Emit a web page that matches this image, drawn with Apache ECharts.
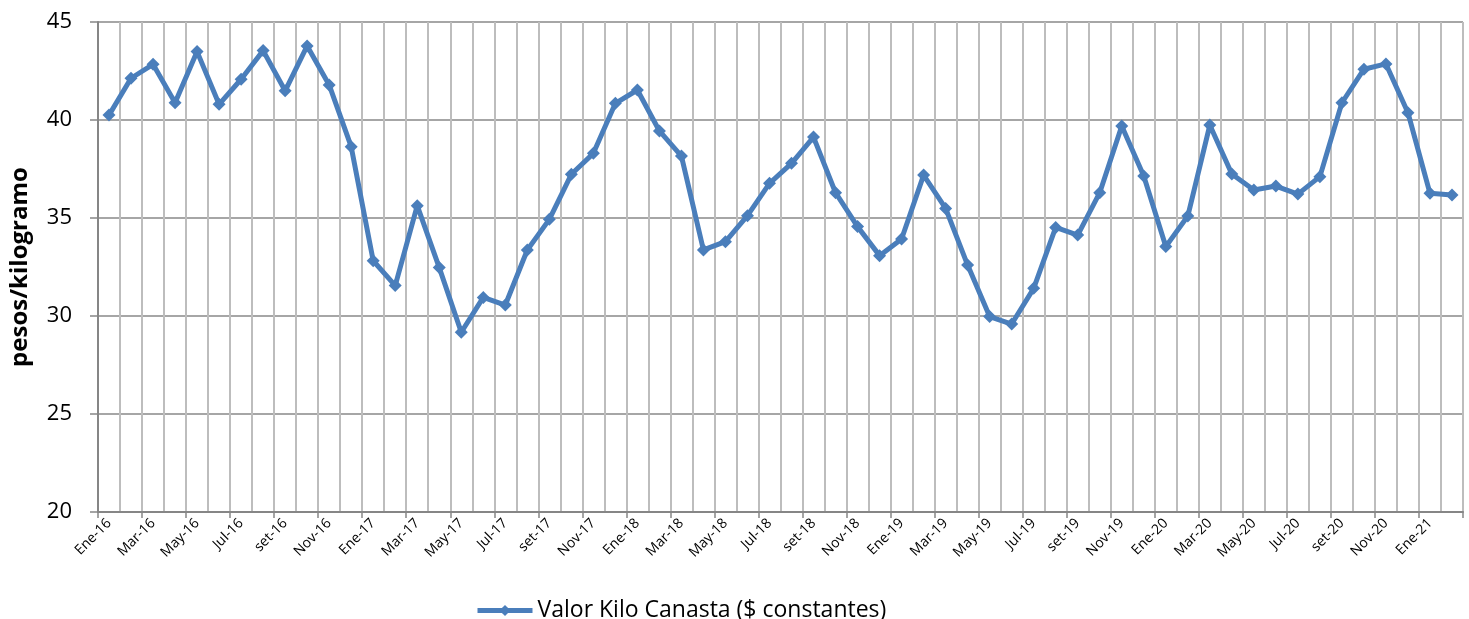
<!DOCTYPE html>
<html>
<head>
<meta charset="utf-8">
<script src="https://cdn.jsdelivr.net/npm/echarts@6/dist/echarts.min.js"></script>
<style>
html,body{margin:0;padding:0;background:#fff;}
#chart{width:1469px;height:619px;}
</style>
</head>
<body>
<div id="chart"></div>
<script>
const months = ['Ene','Feb','Mar','Abr','May','Jun','Jul','Ago','set','Oct','Nov','Dic'];
const years = ['16','17','18','19','20','21'];
const categories = [];
for (const y of years) {
  for (const m of months) {
    categories.push(m + '-' + y);
  }
}
categories.length = 62;

const seriesName = 'Valor Kilo Canasta ($ constantes)';
const values = [
  40.25, 42.13, 42.84, 40.88, 43.49, 40.80, 42.08, 43.54, 41.49, 43.78, 41.79, 38.64,
  32.82, 31.55, 35.63, 32.47, 29.17, 30.95, 30.56, 33.37, 34.93, 37.23, 38.30, 40.85,
  41.53, 39.44, 38.16, 33.37, 33.79, 35.12, 36.77, 37.79, 39.13, 36.29, 34.56, 33.08,
  33.93, 37.19, 35.49, 32.60, 29.97, 29.59, 31.41, 34.52, 34.13, 36.29, 39.69, 37.14,
  33.54, 35.10, 39.74, 37.24, 36.43, 36.63, 36.22, 37.11, 40.88, 42.59, 42.86, 40.37,
  36.26, 36.17
];
const yTicks = [20, 25, 30, 35, 40, 45];

const chart = echarts.init(document.getElementById('chart'));
const font = '"Open Sans", "Noto Sans", sans-serif';
chart.setOption({
  animation: false,
  grid: {left: 96, right: 6, top: 22, bottom: 107, containLabel: false},
  legend: {
    data: [seriesName],
    left: 470, top: 594,
    itemWidth: 55, itemHeight: 14, itemGap: 6,
    lineStyle: {width: 5},
    textStyle: {fontSize: 23, color: '#000', fontFamily: font}
  },
  xAxis: {
    type: 'category',
    data: categories,
    boundaryGap: true,
    axisLine: {lineStyle: {color: '#868686', width: 2}},
    axisTick: {show: true, interval: 1, length: 6, alignWithLabel: false, lineStyle: {color: '#868686', width: 1.5}},
    axisLabel: {interval: 1, rotate: 45, fontSize: 14, color: '#000', fontFamily: font, margin: 9},
    splitLine: {show: true, interval: 0, lineStyle: {color: '#BDBDBD', width: 2}}
  },
  yAxis: {
    type: 'value',
    min: yTicks[0], max: yTicks[yTicks.length - 1], interval: 5,
    name: 'pesos/kilogramo',
    nameLocation: 'middle',
    nameGap: 66,
    nameTextStyle: {fontSize: 24, fontWeight: 'bold', color: '#000', fontFamily: font},
    axisLine: {show: true, lineStyle: {color: '#868686', width: 2}},
    axisTick: {show: true, length: 8, lineStyle: {color: '#868686', width: 1.5}},
    axisLabel: {fontSize: 22, color: '#000', fontFamily: font, margin: 26},
    splitLine: {show: true, lineStyle: {color: '#A6A6A6', width: 2}}
  },
  series: [{
    name: seriesName,
    type: 'line',
    data: values,
    symbol: 'diamond',
    symbolSize: 13,
    itemStyle: {color: '#4A7EBB'},
    lineStyle: {color: '#4A7EBB', width: 5}
  }]
});
</script>
</body>
</html>
